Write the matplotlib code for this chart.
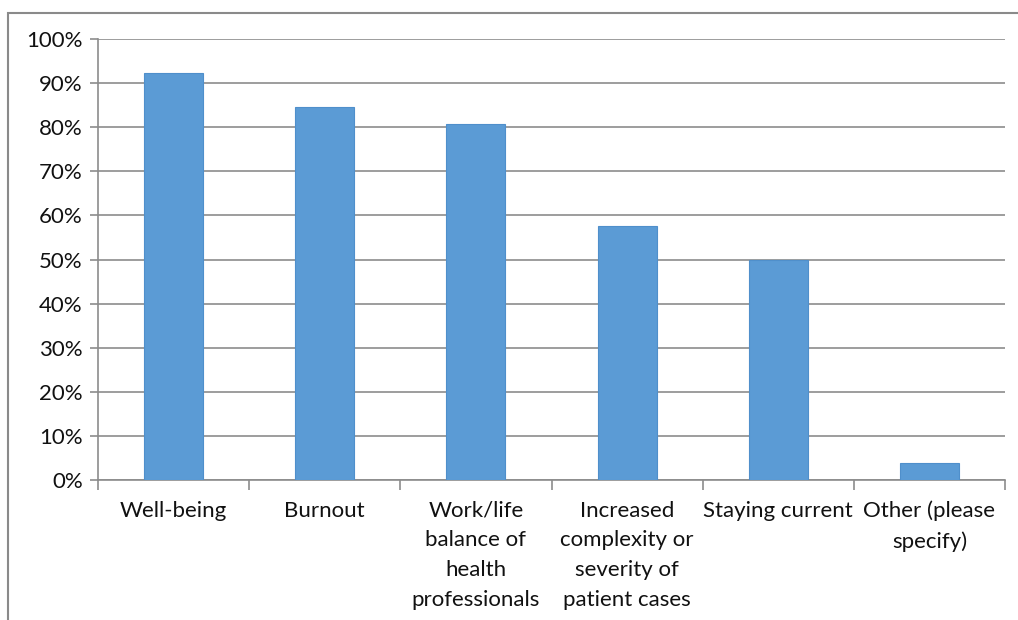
import numpy as np
import matplotlib.pyplot as plt
from matplotlib.patches import Rectangle

categories = ["Well-being", "Burnout", "Work/life\nbalance of\nhealth\nprofessionals",
              "Increased\ncomplexity or\nseverity of\npatient cases", "Staying current",
              "Other (please\nspecify)"]
values = [92.3, 84.6, 80.8, 57.7, 50.0, 3.8]
ytick_labels = ["0%", "10%", "20%", "30%", "40%", "50%", "60%", "70%", "80%", "90%", "100%"]

plt.rcParams['font.family'] = ['Lato', 'DejaVu Sans']

fig = plt.figure(figsize=(10.18, 6.2), dpi=100)
ax = fig.add_axes([98 / 1018, 1 - 480 / 620, 907 / 1018, 441 / 620])

# outer chart frame (cut at right and bottom like the source image)
fig.patches.append(Rectangle((7.5 / 1018, -0.1), 1.2, 1 - 12.5 / 620 + 0.1,
                             transform=fig.transFigure, fill=False,
                             edgecolor="#8a8a8a", linewidth=1.5))

x = np.arange(len(categories))
ax.bar(x, values, width=0.39, color="#5b9bd5", edgecolor="#4f8fcb", linewidth=0.8, zorder=3)

ax.set_xlim(-0.5, len(categories) - 0.5)
ax.set_ylim(0, 100)
ax.set_yticks(np.arange(0, 101, 10))
ax.set_yticklabels(ytick_labels, fontsize=16, color="#111111")
ax.yaxis.grid(True, color="#8c8c8c", linewidth=1.2, zorder=0)

ax.set_xticks(x)
ax.set_xticklabels(categories, fontsize=16, color="#111111", linespacing=1.6, va="top")
ax.set_xticks(np.arange(-0.5, len(categories)), minor=True)
ax.tick_params(axis="x", which="major", length=0, pad=15)
ax.tick_params(axis="x", which="minor", length=7, color="#8c8c8c", width=1.2)
ax.tick_params(axis="y", length=6, color="#8c8c8c", width=1.2, pad=5)

for s in ["top", "right"]:
    ax.spines[s].set_visible(False)
for s in ["left", "bottom"]:
    ax.spines[s].set_color("#8c8c8c")
    ax.spines[s].set_linewidth(1.2)

fig.savefig("out.png", dpi=100)
